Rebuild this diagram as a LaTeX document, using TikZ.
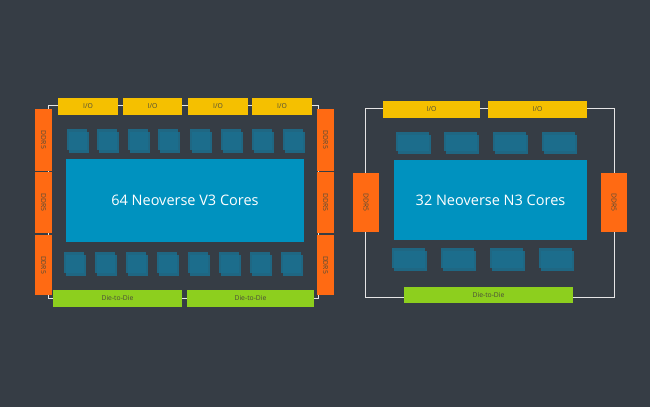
\documentclass[tikz,border=0pt]{standalone}
\usepackage{fontspec}
\setmainfont{Open Sans}
\begin{document}
\definecolor{bg}{HTML}{363D45}
\definecolor{io}{HTML}{F5C000}
\definecolor{ddr}{HTML}{FF6A13}
\definecolor{dtd}{HTML}{8DCF1E}
\definecolor{core}{HTML}{0092BF}
\definecolor{sc}{HTML}{1C6F8E}
\definecolor{lbl}{HTML}{4A4A3A}
\newcommand\bx[7]{\node[#2,minimum width={(#5-#3)*1pt},minimum height={(#6-#4)*1pt}] (#1) at ({(#3+#5)/2},{(#4+#6)/2}) {#7};}
\newcommand\sq[4]{\fill[sc,opacity=.85] (#1,#2) rectangle ++(#3,#4);\fill[sc,opacity=.85] (#1+2,#2+3) rectangle ++(#3,#4);}
\begin{tikzpicture}[x=1pt,y=-1pt,
  box/.style={rectangle,inner sep=0pt,text=lbl,font=\fontsize{6.8}{8}\selectfont},
  iob/.style={box,fill=io},
  dtdb/.style={box,fill=dtd},
  coreb/.style={rectangle,inner sep=0pt,fill=core,text=white,font=\fontsize{14.5}{16}\selectfont},
  wire/.style={draw=white!80!gray,line width=0.9pt}]
\fill[bg] (0,0) rectangle (650,407);
% left chip
\draw[wire] (48,105) rectangle (318,298);
\bx{a1}{iob}{58}{98}{118}{115}{I/O}
\bx{a2}{iob}{123}{98}{182}{115}{I/O}
\bx{a3}{iob}{188}{98}{248}{115}{I/O}
\bx{a4}{iob}{252}{98}{312}{115}{I/O}
\foreach \ya/\yb [count=\i] in {109/171,172/233,235/295}{
  \node[box,fill=ddr,minimum width={(\yb-\ya)*1pt},minimum height=17pt,rotate=-90] (dl\i) at (43.5,{(\ya+\yb)/2}) {DDR5};
  \node[box,fill=ddr,minimum width={(\yb-\ya)*1pt},minimum height=17pt,rotate=-90] (dr\i) at (325.5,{(\ya+\yb)/2}) {DDR5};
}
\bx{d1}{dtdb}{53}{290}{182}{307}{Die-to-Die}
\bx{d2}{dtdb}{187}{290}{314}{307}{Die-to-Die}
\foreach \x in {67,97,128,158,190,221,252,283}{\sq{\x}{129}{20}{21}}
\foreach \x in {64,95,126,157,188,219,250,281}{\sq{\x}{252}{20}{21}}
\bx{c1}{coreb}{66}{159}{304}{242}{64 Neoverse V3 Cores}
% right chip
\draw[wire] (365,108) rectangle (614,297);
\bx{b1}{iob}{383}{101}{480}{118}{I/O}
\bx{b2}{iob}{488}{101}{587}{118}{I/O}
\node[box,fill=ddr,minimum width=59pt,minimum height=26pt,rotate=-90] (e1) at (366,202.5) {DDR5};
\node[box,fill=ddr,minimum width=59pt,minimum height=26pt,rotate=-90] (e2) at (614,202.5) {DDR5};
\foreach \x in {396,444,493,542}{\sq{\x}{132}{33}{19}}
\foreach \x in {392,441,490,539}{\sq{\x}{248}{33}{20}}
\bx{c2}{coreb}{394}{160}{587}{240}{32 Neoverse N3 Cores}
\bx{d3}{dtdb}{404}{287}{573}{303}{Die-to-Die}
\end{tikzpicture}
\end{document}
